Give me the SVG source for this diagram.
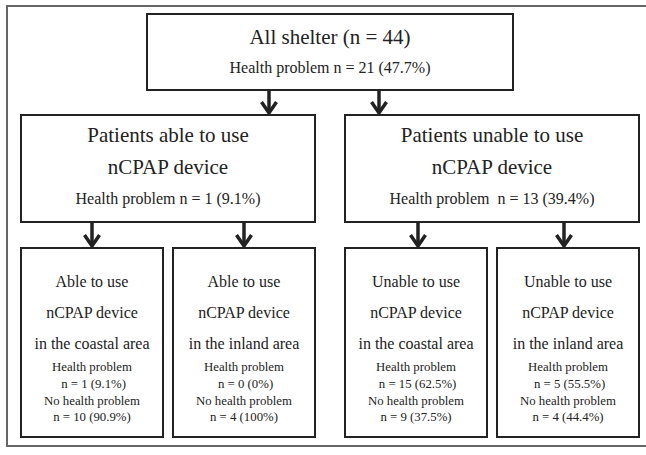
<svg xmlns="http://www.w3.org/2000/svg" width="646" height="455" viewBox="0 0 646 455">
<defs>
<style>
.frame{fill:none;stroke:#666;stroke-width:2}
.box{fill:#fff;stroke:#222;stroke-width:2}
text{font-family:"Liberation Serif","Times New Roman",serif;fill:#222;text-anchor:middle;white-space:pre}
.t21{font-size:21px}
.t16{font-size:16px}
.t13{font-size:12.8px}
.conn{stroke:#222;stroke-width:3.5;fill:none}
</style>
<marker id="arr" markerUnits="userSpaceOnUse" viewBox="-16 -10 20 20" markerWidth="20" markerHeight="20" refX="0" refY="0" orient="auto" overflow="visible">
<path d="M -11,-7.5 L 0,0 L -11,7.5" fill="none" stroke="#222" stroke-width="3.5" stroke-linejoin="miter"/>
</marker>
</defs>
<rect class="frame" x="7" y="6" width="645" height="440"/>

<g id="connectors">
<line class="conn" x1="269" y1="90" x2="269" y2="113" marker-end="url(#arr)"/>
<line class="conn" x1="379" y1="90" x2="379" y2="113" marker-end="url(#arr)"/>
<line class="conn" x1="92" y1="222" x2="92" y2="246" marker-end="url(#arr)"/>
<line class="conn" x1="244" y1="222" x2="244" y2="246" marker-end="url(#arr)"/>
<line class="conn" x1="418" y1="222" x2="418" y2="246" marker-end="url(#arr)"/>
<line class="conn" x1="564" y1="222" x2="564" y2="246" marker-end="url(#arr)"/>
</g>

<g id="all-shelter">
<rect class="box" x="147" y="14" width="366" height="76"/>
<text class="t21" x="330" y="44">All shelter (n = 44)</text>
<text class="t16" x="330" y="73">Health problem n = 21 (47.7%)</text>
</g>

<g id="able">
<rect class="box" x="21" y="115" width="294" height="107"/>
<text class="t21" x="168" y="142">Patients able to use</text>
<text class="t21" x="168" y="174">nCPAP device</text>
<text class="t16" x="168" y="204">Health problem n = 1 (9.1%)</text>
</g>

<g id="unable">
<rect class="box" x="345" y="115" width="294" height="107"/>
<text class="t21" x="492" y="142">Patients unable to use</text>
<text class="t21" x="492" y="174">nCPAP device</text>
<text class="t16" x="492" y="204">Health problem  n = 13 (39.4%)</text>
</g>

<g id="able-coastal">
<rect class="box" x="21" y="248" width="142" height="189"/>
<text class="t16" x="92" y="287">Able to use</text>
<text class="t16" x="92" y="318">nCPAP device</text>
<text class="t16" x="92" y="349">in the coastal area</text>
<text class="t13" x="92" y="371">Health problem</text>
<text class="t13" x="92" y="388"> n = 1 (9.1%)</text>
<text class="t13" x="92" y="405">No health problem</text>
<text class="t13" x="92" y="421">n = 10 (90.9%)</text>
</g>

<g id="able-inland">
<rect class="box" x="173" y="248" width="142" height="189"/>
<text class="t16" x="244" y="287">Able to use</text>
<text class="t16" x="244" y="318">nCPAP device</text>
<text class="t16" x="244" y="349">in the inland area</text>
<text class="t13" x="244" y="371">Health problem</text>
<text class="t13" x="244" y="388"> n = 0 (0%)</text>
<text class="t13" x="244" y="405">No health problem</text>
<text class="t13" x="244" y="421">n = 4 (100%)</text>
</g>

<g id="unable-coastal">
<rect class="box" x="345" y="248" width="142" height="189"/>
<text class="t16" x="416" y="287">Unable to use</text>
<text class="t16" x="416" y="318">nCPAP device</text>
<text class="t16" x="416" y="349">in the coastal area</text>
<text class="t13" x="416" y="371">Health problem</text>
<text class="t13" x="416" y="388"> n = 15 (62.5%)</text>
<text class="t13" x="416" y="405">No health problem</text>
<text class="t13" x="416" y="421">n = 9 (37.5%)</text>
</g>

<g id="unable-inland">
<rect class="box" x="497" y="248" width="142" height="189"/>
<text class="t16" x="568" y="287">Unable to use</text>
<text class="t16" x="568" y="318">nCPAP device</text>
<text class="t16" x="568" y="349">in the inland area</text>
<text class="t13" x="568" y="371">Health problem</text>
<text class="t13" x="568" y="388"> n = 5 (55.5%)</text>
<text class="t13" x="568" y="405">No health problem</text>
<text class="t13" x="568" y="421">n = 4 (44.4%)</text>
</g>
</svg>
